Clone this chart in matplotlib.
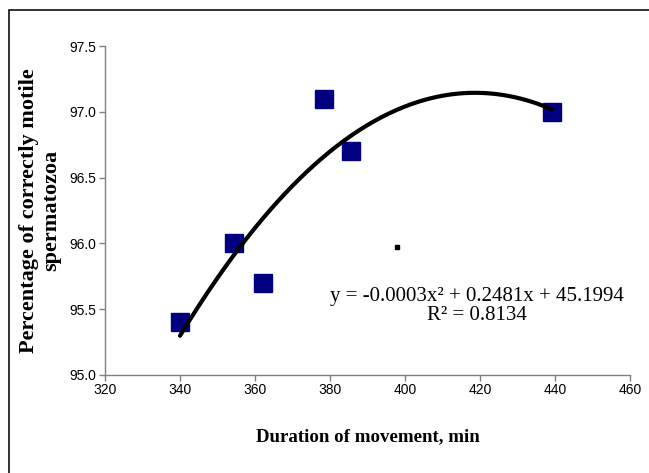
import matplotlib
matplotlib.use("Agg")
import matplotlib.pyplot as plt
import numpy as np

# data
duration = [340, 354.4, 362.2, 378.3, 385.7, 439.3]
motile = [95.4, 96.0, 95.7, 97.1, 96.7, 97.0]
x_ticks = [320, 340, 360, 380, 400, 420, 440, 460]
y_ticks = [95.0, 95.5, 96.0, 96.5, 97.0, 97.5]
equation = "y = -0.0003x\u00b2 + 0.2481x + 45.1994\nR\u00b2 = 0.8134"

serif = 'Liberation Serif'
sans = 'Liberation Sans'

fig = plt.figure(figsize=(6.49, 4.73), dpi=100)
ax = fig.add_axes([0.1618, 0.2072, 0.8089, 0.6955])

# outer frame (only top and left edges visible)
fig.add_artist(plt.Rectangle((0.0131, -0.05), 1.1, 0.028 + 1.0, transform=fig.transFigure,
                             fill=False, edgecolor='#111111', linewidth=1.2))

ax.plot(duration, motile, 's', color='#000080', markersize=12.5, zorder=3)

# 2nd order polynomial trendline
coef = np.polyfit(duration, motile, 2)
xs = np.linspace(min(duration), max(duration), 200)
ax.plot(xs, np.polyval(coef, xs), color='black', linewidth=3.0,
        solid_capstyle='round', zorder=4)

# stray dot left by the label
ax.plot([397.9], [95.97], 's', color='black', markersize=2.2)

ax.text(0.7076, 0.21, equation, transform=ax.transAxes, ha='center', va='center',
        fontsize=15, family=serif, linespacing=0.95)

ax.set_xlim(320, 460)
ax.set_ylim(95.0, 97.5)
ax.set_xticks(x_ticks)
ax.set_yticks(y_ticks)
ax.set_yticklabels([f'{v:.1f}' for v in y_ticks])
for lab in ax.get_xticklabels() + ax.get_yticklabels():
    lab.set_family(sans)
    lab.set_fontsize(10)

for s in ['top', 'right']:
    ax.spines[s].set_visible(False)
for s in ['left', 'bottom']:
    ax.spines[s].set_color('#808080')
    ax.spines[s].set_linewidth(1.0)
ax.tick_params(direction='out', length=4, color='#808080', width=1.0, pad=2)

ax.set_xlabel('Duration of movement, min', fontsize=13.6, family=serif,
              fontweight='bold')
ax.xaxis.set_label_coords(0.5, -0.162)
ax.set_ylabel('Percentage of correctly motile\nspermatozoa', fontsize=16,
              family=serif, fontweight='bold', linespacing=1.15)
ax.yaxis.set_label_coords(-0.084, 0.5)

fig.savefig('out.png', dpi=100, facecolor='white')
plt.close()
